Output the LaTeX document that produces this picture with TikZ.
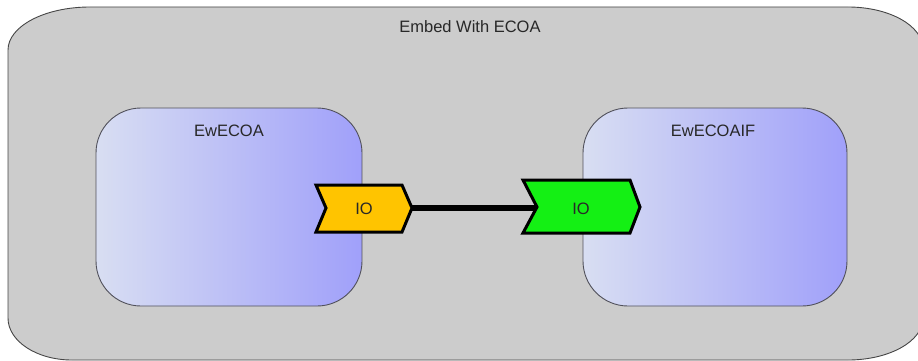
\documentclass[tikz,border=0pt]{standalone}
\usepackage{fontspec}
\setmainfont{Liberation Sans}
\definecolor{outerfill}{RGB}{204,204,204}
\definecolor{outerline}{RGB}{70,70,70}
\definecolor{boxleft}{RGB}{216,222,242}
\definecolor{boxright}{RGB}{160,160,250}
\definecolor{boxline}{RGB}{80,80,90}
\definecolor{portyellow}{RGB}{255,196,0}
\definecolor{portgreen}{RGB}{20,240,20}
\definecolor{labeltext}{RGB}{40,40,40}
\begin{document}
\begin{tikzpicture}[x=1pt,y=-1pt,
  lbl/.style={text=labeltext,font=\fontsize{16.5}{18}\selectfont,inner sep=0pt},
  container/.style={fill=outerfill,draw=outerline,line width=0.9pt},
  component/.style={left color=boxleft,right color=boxright,draw=boxline,line width=0.9pt},
  port/.style={draw=black,line width=3pt,line join=miter},
  wire/.style={draw=black,line width=5.5pt}]
\useasboundingbox (0,0) rectangle (918,361);

% outer composite
\path[container]
  (8,50) arc[start angle=180,end angle=90,x radius=82pt,y radius=43pt]
  -- (848,7) arc[start angle=90,end angle=0,x radius=75pt,y radius=42pt]
  -- (923,318) arc[start angle=0,end angle=-90,x radius=75pt,y radius=42pt]
  -- (72,360) arc[start angle=-90,end angle=-180,x radius=64pt,y radius=42pt]
  -- cycle;
\node[lbl] (title) at (470,26.5) {Embed With ECOA};

% component EwECOA
\path[component]
  (96,153) arc[start angle=180,end angle=90,radius=45pt]
  -- (317,108) arc[start angle=90,end angle=0,radius=45pt]
  -- (362,261) arc[start angle=0,end angle=-90,radius=45pt]
  -- (141,306) arc[start angle=-90,end angle=-180,radius=45pt]
  -- cycle;
\node[lbl] (ewecoa) at (229,131) {EwECOA};

% component EwECOAIF
\path[component]
  (583,153) arc[start angle=180,end angle=90,radius=45pt]
  -- (802,108) arc[start angle=90,end angle=0,radius=45pt]
  -- (847,261) arc[start angle=0,end angle=-90,radius=45pt]
  -- (628,306) arc[start angle=-90,end angle=-180,radius=45pt]
  -- cycle;
\node[lbl] (ewecoaif) at (713,131) {EwECOAIF};

% port ends of the link
\coordinate (outTip) at (410,208);
\coordinate (inNotch) at (539,208);
\draw[wire] (outTip) -- (inNotch);

% output port on EwECOA
\draw[port,fill=portyellow]
  (316,185) -- (402,185) -- (412,208) -- (402,232) -- (316,232) -- (326,208) -- cycle;
\node[lbl] (ioout) at (364,209) {IO};

% input port on EwECOAIF
\draw[port,fill=portgreen]
  (523,180) -- (630,180) -- (640,207) -- (630,233) -- (523,233) -- (537,207) -- cycle;
\node[lbl] (ioin) at (581,209) {IO};
\end{tikzpicture}
\end{document}
